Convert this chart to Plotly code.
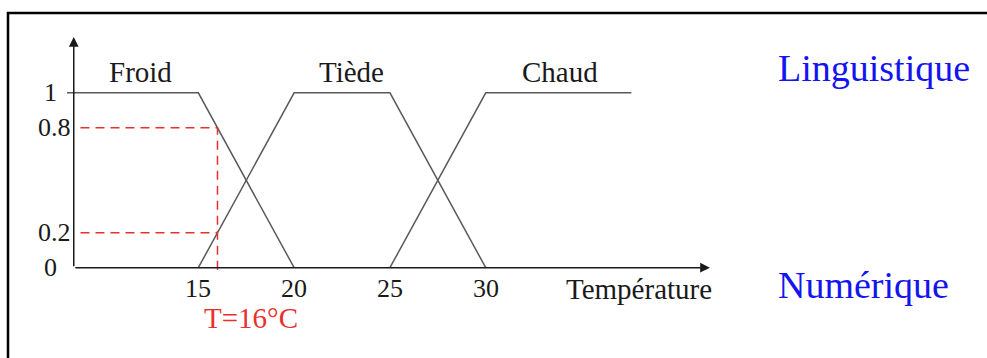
import plotly.graph_objects as go

# ---- data (membership functions, schematic temperature axis) ----
x_origin = 8.5          # temperature at the axis origin
x_axis_end = 41.7       # end of the temperature axis (arrow tip)
y_axis_end = 1.32       # end of the membership axis (arrow tip)

froid_x = [8.15, 15, 20]
froid_y = [1, 1, 0]
tiede_x = [15, 20, 25, 30]
tiede_y = [0, 1, 1, 0]
chaud_x = [25, 30, 37.6]
chaud_y = [0, 1, 1]

set_names = ["Froid", "Tiède", "Chaud"]
set_label_x = [12.0, 23.0, 33.9]
set_label_y = 1.12

x_ticks = [15, 20, 25, 30]
x_tick_labels = ["15", "20", "25", "30"]
y_ticks = [1, 0.8, 0.2, 0]
y_tick_labels = ["1", "0.8", "0.2", "0"]

T_value = 16
mu_froid_T = 0.8
mu_tiede_T = 0.2

# ---- geometry of the page ----
W, H = 987, 358
X_RANGE = [4.65, 56.16]
Y_RANGE = [-0.5164, 1.531]

SERIF = "Liberation Serif, Times New Roman, serif"
LINE_GREY = "#5a5a5a"
RED = "#e8302f"
BLUE = "#1414f0"
BLACK = "#1a1a1a"

fig = go.Figure()

for xs, ys in [(froid_x, froid_y), (tiede_x, tiede_y), (chaud_x, chaud_y)]:
    fig.add_trace(go.Scatter(x=xs, y=ys, mode="lines",
                             line=dict(color=LINE_GREY, width=1.5),
                             hoverinfo="skip", showlegend=False))

# dashed reading lines at T = 16
fig.add_trace(go.Scatter(x=[x_origin + 0.35, T_value, T_value], y=[mu_froid_T, mu_froid_T, -0.02],
                         mode="lines", line=dict(color=RED, width=1.5, dash="9px,6px"),
                         hoverinfo="skip", showlegend=False))
fig.add_trace(go.Scatter(x=[x_origin + 0.35, T_value], y=[mu_tiede_T, mu_tiede_T],
                         mode="lines", line=dict(color=RED, width=1.5, dash="9px,6px"),
                         hoverinfo="skip", showlegend=False))

annotations = []
# axes with arrows
annotations.append(dict(x=x_origin, y=y_axis_end, ax=x_origin, ay=0, xref="x", yref="y",
                        axref="x", ayref="y", text="", showarrow=True, arrowhead=2,
                        arrowsize=1.3, arrowwidth=1.5, arrowcolor=BLACK, standoff=0))
annotations.append(dict(x=x_axis_end, y=0, ax=x_origin, ay=0, xref="x", yref="y",
                        axref="x", ayref="y", text="", showarrow=True, arrowhead=2,
                        arrowsize=1.3, arrowwidth=1.5, arrowcolor=BLACK, standoff=0))

for name, lx in zip(set_names, set_label_x):
    annotations.append(dict(x=lx, y=set_label_y, xref="x", yref="y", text=name,
                            showarrow=False, font=dict(family=SERIF, size=29, color=BLACK)))

for v, lab in zip(x_ticks, x_tick_labels):
    annotations.append(dict(x=v, y=0, xref="x", yref="y", text=lab, showarrow=False,
                            yanchor="middle", yshift=-21,
                            font=dict(family=SERIF, size=26, color=BLACK)))

for v, lab in zip(y_ticks, y_tick_labels):
    annotations.append(dict(x=x_origin, y=v, xref="x", yref="y", text=lab, showarrow=False,
                            xanchor="right", xshift=(-1 if "." in lab else -15),
                            font=dict(family=SERIF, size=26, color=BLACK)))

annotations.append(dict(x=T_value, y=0, xref="x", yref="y", text="T=16°C", showarrow=False,
                        xanchor="left", xshift=-15, yshift=-50,
                        font=dict(family=SERIF, size=29, color=RED)))

annotations.append(dict(x=34.25, y=0, xref="x", yref="y", text="Température", showarrow=False,
                        xanchor="left", yshift=-21, xshift=-3,
                        font=dict(family=SERIF, size=29, color=BLACK)))

annotations.append(dict(x=776 / W, y=1 - 68 / H, xref="paper", yref="paper", text="Linguistique",
                        showarrow=False, xanchor="left", yanchor="middle",
                        font=dict(family=SERIF, size=38, color=BLUE)))
annotations.append(dict(x=776 / W, y=1 - 285 / H, xref="paper", yref="paper", text="Numérique",
                        showarrow=False, xanchor="left", yanchor="middle",
                        font=dict(family=SERIF, size=38, color=BLUE)))

fig.update_layout(
    width=W, height=H,
    margin=dict(l=0, r=0, t=0, b=0),
    paper_bgcolor="white", plot_bgcolor="white",
    xaxis=dict(range=X_RANGE, visible=False, fixedrange=True),
    yaxis=dict(range=Y_RANGE, visible=False, fixedrange=True),
    annotations=annotations,
    shapes=[dict(type="rect", xref="paper", yref="paper",
                 x0=8 / W, y0=-0.1, x1=1.05, y1=1 - 13 / H,
                 line=dict(color="black", width=2.5))],
    showlegend=False,
)

fig.write_html("out.html", config={"displayModeBar": False},
               post_script="document.body.style.margin='0';document.body.style.overflow='hidden';")
